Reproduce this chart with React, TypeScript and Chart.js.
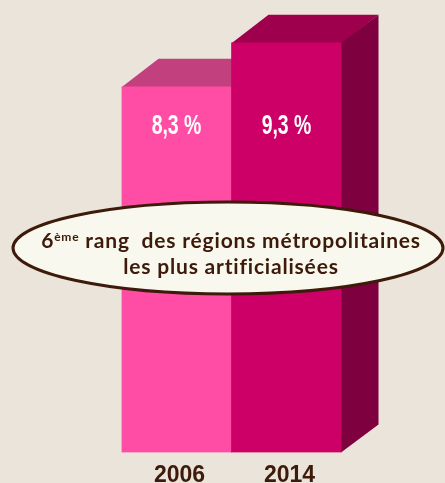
import React, { useEffect, useRef } from "react";
import { Chart, registerables } from "chart.js";

Chart.register(...registerables);

// ---- data ----
const categories = ["2006", "2014"];
const values = [8.3, 9.3];
const valueLabels = ["8,3 %", "9,3 %"];
const frontColors = ["#FF4DA6", "#CC0066"];
const topColors = ["#C2407E", "#9E004E"];
const sideColors = ["#A8306A", "#7E003E"];
const calloutRank = "6";
const calloutSup = "ème";
const calloutLine1 = " rang  des régions métropolitaines";
const calloutLine2 = "les plus artificialisées";

const BG = "#EBE4DA";
const TEXT = "#3D1A0A";
const SANS = '"Liberation Sans", Arial, sans-serif';
const LATO = 'Lato, "Open Sans", sans-serif';

const depth = { dx: 37, dy: -28 };
const valueLabelLevel = 7.4;

const box3d = {
  id: "box3d",
  beforeDatasetsDraw(chart: any) {
    const ctx = chart.ctx;
    const meta = chart.getDatasetMeta(0);
    ctx.save();
    meta.data.forEach((bar: any, i: number) => {
      const { x, y, base, width } = bar.getProps(["x", "y", "base", "width"], true);
      const l = x - width / 2;
      const r = x + width / 2;
      ctx.fillStyle = topColors[i];
      ctx.beginPath();
      ctx.moveTo(l, y + 0.5);
      ctx.lineTo(l + depth.dx, y + depth.dy);
      ctx.lineTo(r + depth.dx, y + depth.dy);
      ctx.lineTo(r, y + 0.5);
      ctx.closePath();
      ctx.fill();
      ctx.fillStyle = sideColors[i];
      ctx.beginPath();
      ctx.moveTo(r - 0.5, y);
      ctx.lineTo(r + depth.dx, y + depth.dy);
      ctx.lineTo(r + depth.dx, base + depth.dy);
      ctx.lineTo(r - 0.5, base);
      ctx.closePath();
      ctx.fill();
    });
    ctx.restore();
  },
  afterDatasetsDraw(chart: any) {
    const ctx = chart.ctx;
    const meta = chart.getDatasetMeta(0);
    const yScale = chart.scales.y;
    ctx.save();
    // value labels (condensed look)
    ctx.fillStyle = "#FFFFFF";
    ctx.font = `bold 27px ${SANS}`;
    ctx.textAlign = "center";
    ctx.textBaseline = "middle";
    meta.data.forEach((bar: any, i: number) => {
      const { x } = bar.getProps(["x"], true);
      const py = yScale.getPixelForValue(valueLabelLevel);
      ctx.save();
      ctx.translate(x, py);
      ctx.scale(0.72, 1);
      ctx.fillText(valueLabels[i], 0, 0);
      ctx.restore();
    });
    // callout ellipse
    ctx.beginPath();
    ctx.ellipse(228, 248, 215, 46, 0, 0, Math.PI * 2);
    ctx.fillStyle = "#F8F8EE";
    ctx.fill();
    ctx.lineWidth = 3;
    ctx.strokeStyle = TEXT;
    ctx.stroke();
    // callout text
    ctx.fillStyle = TEXT;
    ctx.textBaseline = "alphabetic";
    ctx.textAlign = "left";
    (ctx as any).letterSpacing = "0.8px";
    const mainFont = `bold 21px ${LATO}`;
    const supFont = `bold 12px ${LATO}`;
    ctx.font = mainFont;
    const w1 = ctx.measureText(calloutRank).width;
    const w3 = ctx.measureText(calloutLine1).width;
    ctx.font = supFont;
    const w2 = ctx.measureText(calloutSup).width;
    const total = w1 + w2 + w3;
    let sx = 231 - total / 2;
    ctx.font = mainFont;
    ctx.fillText(calloutRank, sx, 248);
    sx += w1;
    ctx.font = supFont;
    ctx.fillText(calloutSup, sx, 241);
    sx += w2;
    ctx.font = mainFont;
    ctx.fillText(calloutLine1, sx, 248);
    ctx.textAlign = "center";
    ctx.fillText(calloutLine2, 231, 274);
    ctx.restore();
  },
};

export default function App() {
  const ref = useRef<HTMLCanvasElement | null>(null);
  useEffect(() => {
    if (!ref.current) return;
    const chart = new Chart(ref.current, {
      type: "bar",
      data: {
        labels: categories,
        datasets: [
          {
            data: values,
            backgroundColor: frontColors,
            borderWidth: 0,
            barPercentage: 1,
            categoryPercentage: 1,
          },
        ],
      },
      options: {
        animation: false,
        responsive: true,
        maintainAspectRatio: false,
        layout: { padding: { left: 121.5, right: 103.5, top: 12, bottom: -15 } },
        plugins: { legend: { display: false }, tooltip: { enabled: false } },
        scales: {
          x: {
            grid: { display: false, drawTicks: false },
            border: { display: false },
            ticks: {
              color: TEXT,
              font: { family: SANS, size: 23, weight: "bold" },
              padding: 9,
              labelOffset: 3,
            },
          },
          y: { display: false, min: 0, max: 10 },
        },
      },
      plugins: [box3d],
    } as any);
    return () => chart.destroy();
  }, []);
  return (
    <div style={{ position: "fixed", left: 0, top: 0, width: 445, height: 483, background: BG }}>
      <canvas ref={ref} />
    </div>
  );
}
